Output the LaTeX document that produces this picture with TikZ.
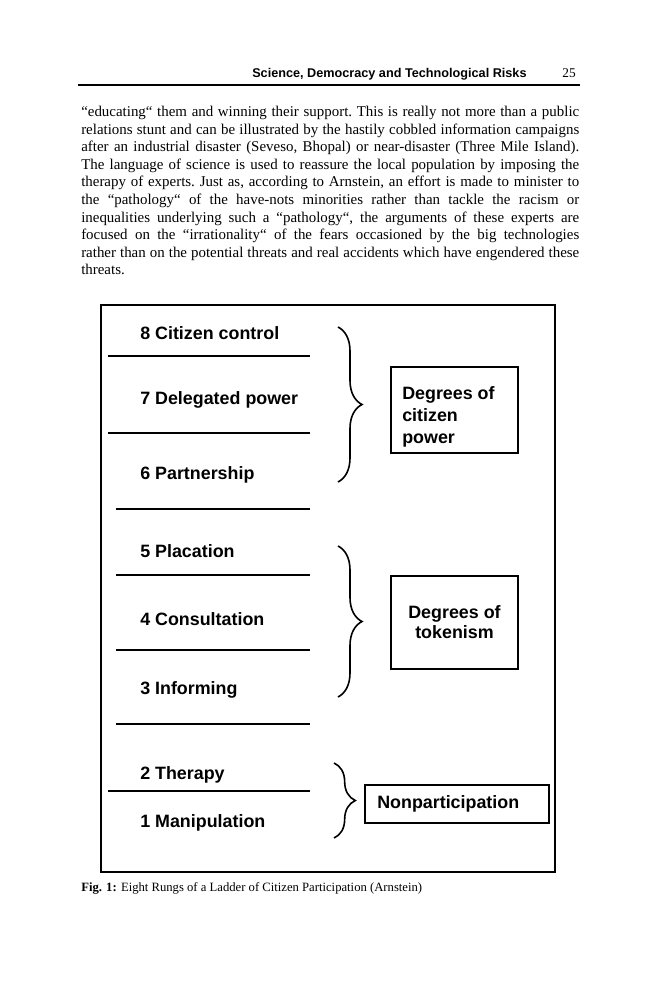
\documentclass[tikz,border=0pt]{standalone}
\usepackage{fontspec}
\setmainfont{Liberation Serif}
\setsansfont{Liberation Sans}
\usetikzlibrary{decorations.pathreplacing,positioning}

\begin{document}
\begin{tikzpicture}[x=0.75pt,y=0.75pt,yscale=-1,xscale=1,
    rung/.style={anchor=base west,inner sep=0pt,font=\sffamily\bfseries\fontsize{13.4}{16}\selectfont},
    rungline/.style={line width=1.1pt},
    groupbox/.style={draw,line width=1.1pt},
    boxtext/.style={inner sep=0pt,font=\sffamily\bfseries\fontsize{13.4}{16.5}\selectfont},
    bracket/.style={decorate,decoration={brace,amplitude=#1},line width=1.2pt},
    bracket/.default=18pt]
    %set diagram to the page: 659 wide, 1000 high
    \useasboundingbox (0,0) rectangle (659,1000);
    \fill[white] (0,0) rectangle (659,1000);

    %Running head
    \node[anchor=base west,inner sep=0pt,font=\sffamily\bfseries\fontsize{9.5}{11}\selectfont] (head) at (252,77) {Science, Democracy and Technological Risks};
    \node[anchor=base east,inner sep=0pt,font=\fontsize{10}{12}\selectfont] (pagenum) at (576,77) {25};
    \draw[line width=1.1pt] (78,85) -- (580,85);

    % Text Node
    \node[anchor=base west,inner sep=0pt,font=\fontsize{11.2}{13.2}\selectfont] (para) at (81,116.5) {\parbox[t]{373.5pt}{\parindent=0pt\hyphenpenalty=10000\frenchspacing
    “educating“ them and winning their support. This is really not more than a public\linebreak
    relations stunt and can be illustrated by the hastily cobbled information campaigns\linebreak
    after an industrial disaster (Seveso, Bhopal) or near-disaster (Three Mile Island).\linebreak
    The language of science is used to reassure the local population by imposing the\linebreak
    therapy of experts. Just as, according to Arnstein, an effort is made to minister to\linebreak
    the “pathology“ of the have-nots minorities rather than tackle the racism or\linebreak
    inequalities underlying such a “pathology“, the arguments of these experts are\linebreak
    focused on the “irrationality“ of the fears occasioned by the big technologies\linebreak
    rather than on the potential threats and real accidents which have engendered these\linebreak
    threats.}};

    %Shape: Rectangle (figure frame)
    \draw[line width=1.2pt] (101,305) rectangle (555,872);

    % Rungs of the ladder
    \node[rung] (r8) at (140,339.5) {8 Citizen control};
    \draw[rungline] (108,356) -- (310,356);
    \node[rung] (r7) at (140,404) {7 Delegated power};
    \draw[rungline] (108,433) -- (310,433);
    \node[rung] (r6) at (140,479.5) {6 Partnership};
    \draw[rungline] (116,509) -- (310,509);
    \node[rung] (r5) at (140,557.5) {5 Placation};
    \draw[rungline] (116,575) -- (310,575);
    \node[rung] (r4) at (140,625.5) {4 Consultation};
    \draw[rungline] (116,650) -- (310,650);
    \node[rung] (r3) at (140,694.5) {3 Informing};
    \draw[rungline] (116,724) -- (310,724);
    \node[rung] (r2) at (140,779.5) {2 Therapy};
    \draw[rungline] (108,791) -- (310,791);
    \node[rung] (r1) at (140,827.5) {1 Manipulation};

    % Braces
    \coordinate (citup) at (338,327);
    \coordinate (citdown) at (338,482);
    \coordinate (tokup) at (338,546);
    \coordinate (tokdown) at (338,697);
    \coordinate (nonup) at (334,763);
    \coordinate (nondown) at (334,838);
    \draw[bracket] (citup) -- (citdown);
    \draw[bracket] (tokup) -- (tokdown);
    \draw[bracket=16pt] (nonup) -- (nondown);

    %Shape: Rectangle [citizen power]
    \draw[groupbox] (391,367) rectangle (518,453);
    \node[boxtext,anchor=base west] (citpower) at (402,399.5) {\parbox[t]{100pt}{Degrees of\\citizen\\power}};
    %Shape: Rectangle [tokenism]
    \draw[groupbox] (391,576) rectangle (518,669);
    \node[boxtext,anchor=base] (tokenism) at (454.5,618) {\fontsize{13.4}{15.4}\selectfont\parbox[t]{100pt}{\centering Degrees of\\tokenism}};
    %Shape: Rectangle [nonparticipation]
    \draw[groupbox] (365,785) rectangle (549,823);
    \node[boxtext,anchor=base west] (nonpart) at (377,808) {Nonparticipation};

    % Caption
    \node[anchor=base west,inner sep=0pt,font=\fontsize{9.5}{11}\selectfont] (caption) at (81,891) {\textbf{Fig. 1:} Eight Rungs of a Ladder of Citizen Participation (Arnstein)};

\end{tikzpicture}
\end{document}
